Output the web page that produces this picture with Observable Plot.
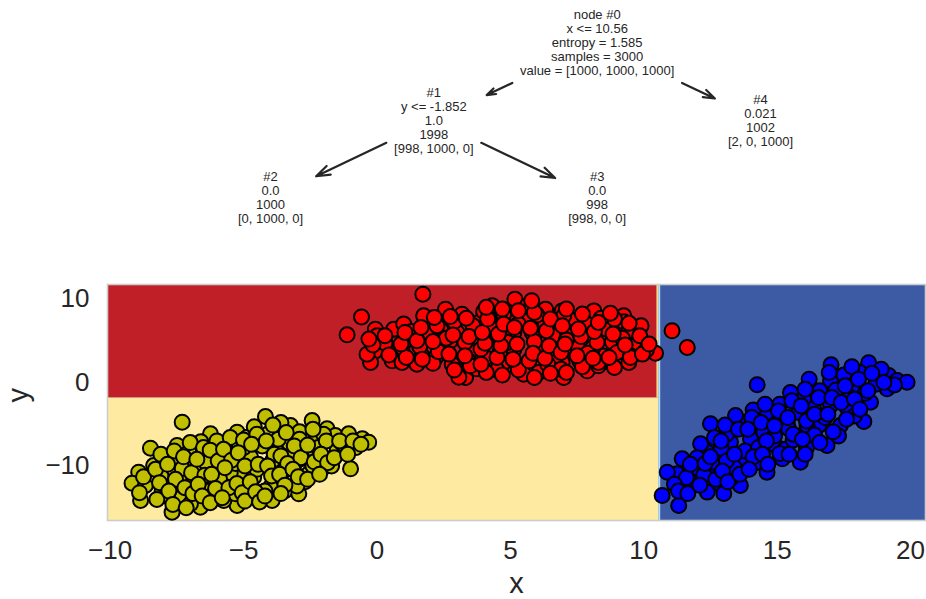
<!DOCTYPE html>
<html><head><meta charset="utf-8">
<script src="https://cdn.jsdelivr.net/npm/d3@7"></script>
<script src="https://cdn.jsdelivr.net/npm/@observablehq/plot@0.6"></script>
<style>
body{margin:0;background:#fff;font-family:"Liberation Sans",Arial,sans-serif;}
#chart svg{display:block;}
</style></head><body><div id="chart"></div>
<script>
// ---------------- DATA ----------------
// decision tree
const nodeIds = [0, 1, 2, 3, 4];
const nodeParents = [null, 0, 1, 1, 0];
const nodeSides = [0, -1, -1, 1, 1];           // -1 = left child, 1 = right child
const nodeLabels = [
  ["node #0", "x <= 10.56", "entropy = 1.585", "samples = 3000", "value = [1000, 1000, 1000]"],
  ["#1", "y <= -1.852", "1.0", "1998", "[998, 1000, 0]"],
  ["#2", "0.0", "1000", "[0, 1000, 0]"],
  ["#3", "0.0", "998", "[998, 0, 0]"],
  ["#4", "0.021", "1002", "[2, 0, 1000]"]
];
const xThreshold = 10.56;
const yThreshold = -1.852;
const leafClass = {2: 1, 3: 0, 4: 2};

// axes
const xDomain = [-10.1, 20.56];
const yDomain = [-16.53, 11.74];
const xTicks = [-10, -5, 0, 5, 10, 15, 20];
const yTicks = [-10, 0, 10];
const xLabel = "x";
const yLabel = "y";

// class colours
const pointColors = ["#ff0000", "#bfbf00", "#0000ff"];
const regionColors = ["#c11f27", "#feeba1", "#3d5ba5"];

// samples
const class0Points = [
  [1.72,10.58],[-0.58,7.86],[-1.12,5.71],[-0.06,6.39],[0.01,5.59],[0.63,6.39],[-0.06,3.79],[-0.24,2.40],
  [-0.37,3.39],[0.94,4.19],[0.57,2.60],[0.94,2.40],[1.69,3.19],[1.88,7.19],[1.75,7.99],[2.57,8.78],
  [2.44,4.19],[2.75,4.99],[2.38,6.39],[3.19,8.18],[3.50,3.79],[3.32,0.60],[3.63,1.80],[4.07,2.99],
  [4.13,5.39],[3.82,7.19],[4.32,9.19],[4.69,8.18],[2.82,2.19],[5.17,9.98],[5.63,9.19],[4.75,8.18],
  [6.32,8.78],[6.94,8.58],[8.13,8.58],[9.25,7.99],[9.25,7.27],[9.44,6.19],[9.81,4.99],[10.44,3.51],
  [8.82,4.87],[7.50,4.39],[6.13,3.79],[5.13,5.99],[5.13,3.99],[4.75,2.40],[6.94,2.40],[7.88,1.40],
  [7.00,0.60],[6.06,1.20],[9.44,2.40],[8.50,3.19],[6.32,6.98],[7.31,7.39],[7.88,6.98],[5.82,5.99],
  [11.06,6.19],[11.63,4.19],[3.07,0.63],[3.74,1.64],
  [1.2,5.2],[1.5,2.2],[2.0,5.8],[2.2,3.0],[3.0,6.0],[3.3,4.8],[3.9,4.0],[4.4,6.3],[4.9,4.8],[5.4,2.0],
  [5.6,7.6],[5.9,4.9],[6.6,5.6],[6.7,3.1],[7.2,6.0],[7.6,2.6],[8.0,5.5],[8.3,2.0],[8.6,6.4],[9.0,3.6],
  [9.7,4.4],[9.9,6.8],[8.9,7.6],[7.0,8.0],[4.0,8.5],[2.9,7.3],[1.0,7.0],[0.3,4.7],[1.6,4.3],[4.5,1.5],
  [5.5,1.0],[6.4,2.2],[8.1,4.2],[9.2,5.3],[10.1,3.9],[3.4,2.7],[2.1,2.3],[1.3,6.1],[2.6,5.3],[3.6,6.8],
  [4.6,3.6],[5.3,7.0],[6.0,8.1],[7.1,5.1],[7.9,3.5],[8.4,7.7],[9.5,3.2],[6.9,1.6],
  [-0.15,4.5],[-0.3,5.2],[0.45,3.3],[0.3,5.6],[1.1,3.0],[0.9,4.6],[1.05,6.0],[1.7,2.8],[1.5,5.0],[1.65,6.6],
  [2.3,3.7],[2.1,4.9],[2.25,6.8],[2.15,7.8],[2.9,1.5],[2.7,3.4],[2.85,5.7],[2.75,7.9],[3.5,2.0],[3.3,3.2],
  [3.45,5.5],[3.35,7.7],[4.1,1.2],[3.9,2.2],[4.05,4.7],[3.95,6.0],[4.15,7.6],[4.1,9.0],[4.7,0.9],[4.5,3.0],
  [4.65,4.4],[4.55,5.8],[4.75,7.0],[4.7,8.8],[5.3,1.5],[5.1,2.8],[5.25,4.6],[5.15,6.6],[5.3,8.6],[5.9,0.6],
  [5.7,2.6],[5.85,3.5],[5.75,6.5],[5.9,8.4],[5.8,9.8],[6.5,1.1],[6.3,2.9],[6.45,4.4],[6.35,6.2],[6.5,7.6],
  [7.1,1.2],[6.9,3.6],[7.05,4.6],[6.95,6.8],[7.1,8.8],[7.7,1.9],[7.5,3.2],[7.65,5.5],[7.55,6.4],[7.7,8.2],
  [8.3,2.4],[8.1,2.9],[8.25,4.8],[8.15,6.1],[8.3,7.2],[8.9,1.8],[8.7,3.0],[8.85,5.8],[8.75,8.3],[9.5,3.0],
  [9.3,4.5],[9.45,7.1],[9.95,3.4],[9.85,5.6],[10.2,4.6]
];
const class1Points = [
  [-7.30,-4.75],[-8.49,-7.87],[-7.49,-7.54],[-8.93,-10.74],[-9.18,-12.06],[-8.68,-12.33],[-8.86,-14.13],
  [-7.68,-15.53],[-8.37,-9.94],[-7.80,-10.74],[-7.05,-8.35],[-7.05,-9.94],[-6.74,-12.93],[-6.62,-14.93],
  [-7.30,-13.73],[-6.24,-6.14],[-5.49,-8.54],[-6.12,-10.14],[-5.80,-12.13],[-5.37,-13.53],[-5.24,-14.73],
  [-5.12,-11.34],[-4.86,-9.14],[-5.24,-5.95],[-4.86,-6.55],[-7.74,-12.13],[-8.05,-12.93],[-6.24,-12.93],
  [-6.99,-14.53],[-5.74,-14.13],[-4.18,-4.07],[-2.43,-4.55],[-3.68,-5.67],[-3.24,-5.15],[-1.87,-5.55],
  [-1.56,-6.35],[-1.06,-6.14],[-0.55,-6.75],[-0.31,-7.15],[-0.99,-10.34],[-3.18,-6.55],[-2.31,-6.95],
  [-3.80,-8.14],[-3.12,-8.14],[-2.43,-8.54],[-1.49,-8.14],[-4.74,-8.94],[-3.12,-9.94],[-1.99,-10.14],
  [-2.56,-10.94],[-4.62,-11.34],[-3.62,-11.74],[-3.99,-12.53],[-3.43,-12.93],[-2.93,-13.33],[-5.30,-13.33],
  [-4.37,-13.73],[-3.93,-14.13],
  [-8.1,-11.2],[-7.6,-9.0],[-7.2,-11.4],[-6.8,-10.6],[-6.5,-8.2],[-6.6,-7.1],[-6.0,-8.9],[-5.7,-7.3],
  [-5.5,-10.8],[-5.9,-11.6],[-6.3,-13.8],[-4.9,-12.6],[-4.5,-10.4],[-4.3,-7.6],[-4.1,-6.2],[-3.9,-9.3],
  [-3.5,-10.6],[-3.3,-7.2],[-2.8,-9.1],[-2.7,-11.9],[-2.2,-7.8],[-1.8,-9.2],[-1.3,-7.3],[-0.8,-7.8],
  [-2.0,-6.2],[-4.6,-5.3],[-3.6,-4.8],[-5.0,-7.8],[-6.9,-12.0],[-7.9,-13.6],[-8.4,-11.0],[-4.2,-13.0],
  [-3.0,-12.4],[-2.4,-10.0],[-1.7,-10.0],[-5.3,-9.7],[-6.4,-9.6],[-7.3,-10.3],[-3.7,-6.8],[-2.9,-5.9],
  [-8.75,-11.3],[-8.9,-13.2],[-8.1,-8.6],[-8.3,-10.4],[-8.15,-12.0],[-8.25,-14.0],[-7.6,-8.2],[-7.85,-9.8],
  [-7.55,-11.6],[-7.8,-13.0],[-7.65,-14.6],[-7.0,-7.2],[-7.25,-8.9],[-6.95,-10.8],[-7.2,-12.6],[-6.9,-13.3],
  [-7.15,-15.0],[-6.5,-7.8],[-6.75,-9.2],[-6.45,-11.1],[-6.7,-12.2],[-6.55,-13.6],[-6.0,-7.0],[-6.25,-8.1],
  [-5.95,-9.4],[-6.2,-11.0],[-6.05,-12.7],[-6.25,-14.4],[-5.5,-6.6],[-5.75,-8.0],[-5.45,-9.3],[-5.7,-10.2],
  [-5.55,-12.6],[-5.8,-13.8],[-5.0,-6.9],[-5.2,-8.4],[-4.95,-10.0],[-5.25,-12.1],[-5.05,-13.2],[-4.95,-14.2],
  [-4.5,-6.2],[-4.7,-7.4],[-4.45,-9.8],[-4.75,-11.9],[-4.55,-13.1],[-4.4,-14.3],[-3.9,-5.1],[-4.15,-7.0],
  [-3.85,-8.6],[-4.1,-10.0],[-3.95,-11.2],[-4.2,-13.6],[-3.4,-6.0],[-3.6,-8.8],[-3.35,-9.7],[-3.65,-11.0],
  [-3.45,-12.3],[-3.6,-13.3],[-2.9,-6.8],[-3.1,-7.6],[-2.85,-9.0],[-3.15,-10.4],[-2.95,-11.3],[-2.4,-5.6],
  [-2.6,-7.5],[-2.35,-9.5],[-2.6,-11.6],[-1.9,-7.0],[-2.1,-8.6],[-1.85,-9.6],[-2.15,-11.0],[-1.4,-7.0],
  [-1.6,-9.0],[-0.9,-7.0],[-1.1,-8.6],[-0.6,-7.4]
];
const class2Points = [
  [14.25,-0.28],[17.02,2.12],[18.43,2.36],[19.18,0.84],[19.50,0.24],[18.74,0.44],[17.94,-0.76],[18.25,-4.67],
  [17.00,0.24],[16.37,-3.15],[16.56,-5.15],[17.00,-2.75],[17.62,-2.96],[15.38,-4.75],[14.87,-4.35],
  [14.50,-5.95],[13.62,-4.75],[12.50,-4.95],[13.44,-3.95],[14.00,-6.74],[13.25,-7.15],[12.38,-8.35],
  [12.13,-7.34],[11.44,-9.14],[11.25,-10.93],[10.88,-10.74],[12.06,-10.34],[12.75,-10.93],[12.38,-13.13],
  [10.69,-13.53],[11.31,-14.73],[13.62,-12.33],[13.74,-9.54],[14.94,-7.54],[15.19,-9.14],[14.62,-10.74],
  [15.87,-9.54],[15.43,-5.55],[16.12,-5.15],[13.25,-11.53],[16.87,-7.54],[17.37,-5.15],[18.50,-2.36],
  [19.12,-0.76],[19.87,0.04],
  [11.8,-12.0],[12.0,-9.0],[12.7,-9.6],[12.9,-7.9],[13.1,-6.2],[13.4,-10.2],[13.8,-8.2],[14.2,-9.6],
  [14.3,-7.8],[14.6,-3.6],[14.9,-6.4],[15.1,-2.6],[15.3,-8.0],[15.6,-6.9],[15.8,-3.6],[16.0,-1.8],
  [16.1,-7.8],[16.4,-6.3],[16.6,-1.0],[16.8,-4.2],[17.2,-0.9],[17.3,-6.4],[17.5,0.9],[17.7,-1.7],
  [17.9,-4.0],[18.1,1.2],[18.3,-1.3],[18.7,-0.2],[16.2,0.4],[15.5,-1.2],[14.1,-3.3],[12.8,-12.0],
  [11.6,-11.4],[13.0,-13.3],[17.8,1.9],[18.9,1.6],[19.4,-0.3],
  [11.15,-12.2],[11.3,-13.0],[11.75,-9.8],[11.65,-13.3],[12.25,-11.1],[12.1,-12.3],[12.3,-9.7],[12.65,-6.6],
  [12.5,-8.9],[12.7,-11.6],[13.05,-5.1],[12.9,-7.0],[13.1,-9.4],[12.95,-10.6],[13.15,-11.9],[13.55,-5.6],
  [13.4,-8.6],[13.6,-11.0],[14.05,-4.2],[13.9,-5.6],[14.1,-8.9],[13.95,-10.4],[14.55,-2.6],[14.4,-4.8],
  [14.6,-7.0],[14.45,-8.6],[14.65,-9.8],[15.05,-3.4],[14.9,-5.2],[15.1,-8.5],[15.55,-2.2],[15.4,-4.2],
  [15.6,-6.2],[15.45,-8.6],[16.05,-0.8],[15.9,-2.8],[16.1,-4.6],[15.95,-6.8],[16.05,-8.6],[16.55,-1.8],
  [16.4,-3.8],[16.6,-7.2],[17.05,-1.8],[16.9,-3.8],[17.1,-5.9],[16.95,1.2],[17.55,-0.4],[17.4,-2.4],
  [17.6,-4.4],[18.05,0.4],[17.9,-2.0],[18.1,-3.2],[18.55,1.1],[18.4,-1.0],[19.0,0.0]
];

// ---------------- BUILD ----------------
const FONT = "'Liberation Sans', Arial, sans-serif";
const INK = "#262626";

// tree layout: root at 0, left child = parent - 1, right child = parent + 1
const nodes = nodeIds.map(id => ({id, lines: nodeLabels[id]}));
nodes.forEach((n, i) => {
  const p = nodeParents[i];
  n.lx = p === null ? 0 : nodes[p].lx + nodeSides[i];
  n.depth = p === null ? 0 : nodes[p].depth + 1;
});

const TW = 926, TH = 270, tML = 270, tMR = 166, tMT = 42, tMB = 72.5;
const fs = 13, lh = 14, pad = 5;
const ctx = document.createElement("canvas").getContext("2d");
ctx.font = `${fs}px ${FONT}`;
nodes.forEach(n => {
  n.hw = d3.max(n.lines, l => ctx.measureText(l).width) / 2 + pad;
  n.hh = n.lines.length * lh / 2 + pad;
});
const lxExt = d3.extent(nodes, d => d.lx);
const maxDepth = d3.max(nodes, d => d.depth);
const ux = (TW - tML - tMR) / (lxExt[1] - lxExt[0]);
const uy = (TH - tMT - tMB) / maxDepth;
const edges = nodes.filter((n, i) => nodeParents[i] !== null).map(c => {
  const p = nodes[nodeParents[nodes.indexOf(c)]];
  const dx = (c.lx - p.lx) * ux, dy = (c.depth - p.depth) * uy;
  const len = Math.hypot(dx, dy);
  const t0 = Math.min(p.hw / Math.abs(dx), p.hh / Math.abs(dy)) + 3 / len;
  const t1 = 1 - (Math.min(c.hw / Math.abs(dx), c.hh / Math.abs(dy)) + 9 / len);
  return {
    x1: p.lx + (c.lx - p.lx) * t0, y1: p.depth + (c.depth - p.depth) * t0,
    x2: p.lx + (c.lx - p.lx) * t1, y2: p.depth + (c.depth - p.depth) * t1
  };
});

const tree = Plot.plot({
  width: TW, height: TH,
  marginLeft: tML, marginRight: tMR, marginTop: tMT, marginBottom: tMB,
  x: {domain: lxExt, axis: null},
  y: {domain: [0, maxDepth], reverse: true, axis: null},
  style: {fontFamily: FONT, background: "#fff"},
  marks: [
    Plot.arrow(edges, {x1: "x1", y1: "y1", x2: "x2", y2: "y2", stroke: INK, strokeWidth: 2.2,
      headLength: 10, headAngle: 38}),
    Plot.text(nodes, {x: "lx", y: "depth", text: d => d.lines.join("\n"), fontSize: fs,
      lineHeight: lh / fs, fill: INK, textAnchor: "middle", lineAnchor: "middle"})
  ]
});

// decision regions from the tree
const regions = [
  {x1: xDomain[0], x2: xThreshold, y1: yDomain[0], y2: yThreshold, cls: leafClass[2]},
  {x1: xDomain[0], x2: xThreshold, y1: yThreshold, y2: yDomain[1], cls: leafClass[3]},
  {x1: xThreshold, x2: xDomain[1], y1: yDomain[0], y2: yDomain[1], cls: leafClass[4]}
];
const points = [
  ...class0Points.map(([x, y]) => ({x, y, cls: 0})),
  ...class1Points.map(([x, y]) => ({x, y, cls: 1})),
  ...class2Points.map(([x, y]) => ({x, y, cls: 2}))
];
const fmt = d => d < 0 ? "\u2212" + Math.abs(d) : String(d);

const scatter = Plot.plot({
  width: 926, height: 329,
  marginLeft: 107, marginRight: 1, marginTop: 14, marginBottom: 79,
  x: {domain: xDomain},
  y: {domain: yDomain},
  style: {fontFamily: FONT, fontSize: "26px", color: INK, background: "#fff"},
  marks: [
    Plot.rect(regions, {x1: "x1", x2: "x2", y1: "y1", y2: "y2", fill: d => regionColors[d.cls]}),
    Plot.ruleX([xThreshold], {y1: yThreshold, y2: yDomain[1], stroke: "#fee090", strokeWidth: 1.5, dx: -1.5}),
    Plot.ruleX([xThreshold], {y1: yDomain[0], y2: yDomain[1], stroke: "#b7def0", strokeWidth: 2, dx: 0.5}),
    Plot.frame({stroke: "#cccccc", strokeWidth: 1.6}),
    Plot.dot(points, {x: "x", y: "y", r: 7.5, fill: d => pointColors[d.cls], stroke: "#000", strokeWidth: 2}),
    Plot.axisX({ticks: xTicks, tickSize: 0, tickPadding: 20, tickFormat: fmt, label: null, fill: INK}),
    Plot.axisY({ticks: yTicks, tickSize: 0, tickPadding: 18, tickFormat: fmt, label: null, fill: INK}),
    Plot.text([xLabel], {frameAnchor: "bottom", dy: 63, text: d => d, fontSize: 29, fill: INK, lineAnchor: "middle"}),
    Plot.text([yLabel], {frameAnchor: "left", dx: -89, text: d => d, fontSize: 29, fill: INK, rotate: -90, lineAnchor: "middle"})
  ]
});

const root = document.getElementById("chart");
root.appendChild(tree);
root.appendChild(scatter);
</script>
</body></html>
